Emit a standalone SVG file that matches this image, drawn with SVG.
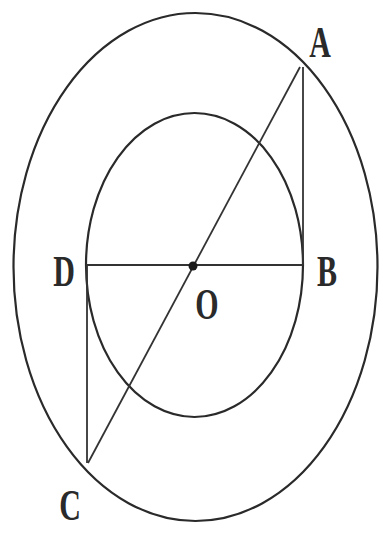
<svg xmlns="http://www.w3.org/2000/svg" width="383" height="536" viewBox="0 0 383 536">
<style>
.c{fill:none;stroke:#2a2a2a;stroke-width:2.2}
.l{stroke:#333;stroke-width:1.8;fill:none}
.t{font-family:"Liberation Serif",serif;font-size:30px;font-weight:bold;fill:#2a2a2a;text-anchor:middle}
</style>
<rect width="383" height="536" fill="#fff"/>
<g id="outer"><ellipse class="c" cx="195.5" cy="267" rx="182" ry="254"/></g>
<g id="inner"><ellipse class="c" cx="194.5" cy="265" rx="108.5" ry="152"/></g>
<g id="connectors">
<line class="l" x1="300" y1="67" x2="88" y2="463"/>
<line class="l" x1="303" y1="67" x2="303" y2="265"/>
<line class="l" x1="87" y1="265" x2="87" y2="463"/>
<line class="l" x1="86" y1="265" x2="303" y2="265" stroke-width="2.4"/>
</g>
<g id="O"><circle cx="193" cy="266" r="4.5" fill="#1a1a1a"/><text class="t" transform="translate(207,319) scale(1,1.45)">O</text></g>
<g id="A"><text class="t" transform="translate(320,57) scale(1,1.45)">A</text></g>
<g id="B"><text class="t" transform="translate(327,286) scale(1,1.45)">B</text></g>
<g id="D"><text class="t" transform="translate(64,286) scale(1,1.45)">D</text></g>
<g id="C"><text class="t" transform="translate(70,520) scale(1,1.45)">C</text></g>
</svg>
